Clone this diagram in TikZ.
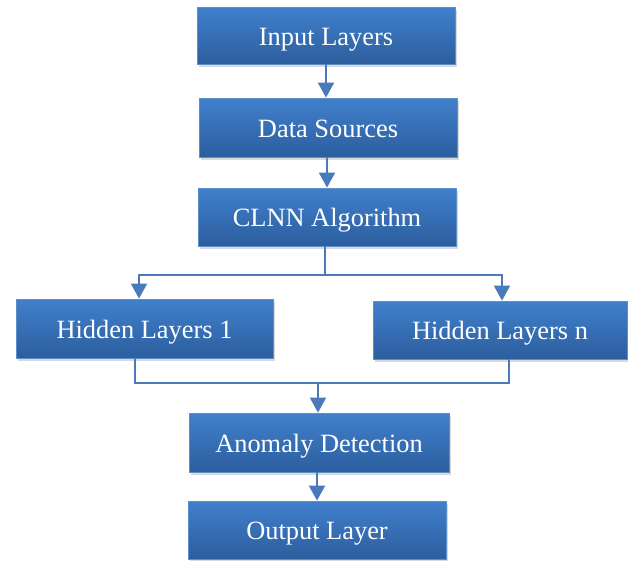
\documentclass[tikz,border=0pt]{standalone}
\usepackage{fontspec}
\setmainfont{Liberation Serif}
\usetikzlibrary{arrows.meta,shadows,calc}
\definecolor{BoxTopColor}{RGB}{64,128,204}
\definecolor{BoxBottomColor}{RGB}{44,94,158}
\definecolor{BoxEdgeColor}{RGB}{92,142,202}
\definecolor{LinkColor}{RGB}{72,122,188}

\begin{document}
\begin{tikzpicture}[x=1pt,y=-1pt,
  blk/.style n args={2}{rectangle,draw=BoxEdgeColor,line width=0.8pt,top color=BoxTopColor,bottom color=BoxBottomColor,minimum width=#1pt,minimum height=#2pt,inner sep=0pt,text height=19pt,text depth=0pt,text=white,font=\fontsize{26.4}{30}\selectfont,drop shadow={shadow xshift=2pt,shadow yshift=-2.5pt,opacity=0.3,fill=black!50}},
  link/.style={draw=LinkColor,line width=2pt},
  arr/.style={link,-{Triangle[width=16pt,length=15pt]}}]
\useasboundingbox (0,0) rectangle (628,560);
\node[blk={258}{57}](input) at(326,35.5) {Input Layers};
\node[blk={258}{59}](data) at(328,127.5) {Data Sources};
\node[blk={258}{58}](clnn) at(327,217) {CLNN Algorithm};
\node[blk={257}{59}](hid1) at(144.5,328.5) {Hidden Layers 1};
\node[blk={254}{58}](hidn) at(500,330) {Hidden Layers n};
\node[blk={260}{59}](anom) at(319,442.5) {Anomaly Detection};
\node[blk={258}{58}](output) at(317,530) {Output Layer};
% vertical chain
\draw[arr] (input.south) -- (input.south |- data.north);
\draw[arr] (clnn.north |- data.south) -- (clnn.north);
\draw[arr] (output.north |- anom.south) -- (output.north);
% split and merge
\coordinate (split) at ($(clnn.south)+(-2,29)$);
\draw[link] (clnn.south -| split) -- (split);
\draw[arr] (split) -| ($(hid1.north)+(-5.5,0)$);
\draw[arr] (split) -| ($(hidn.north)+(2,0)$);
\coordinate (merge) at (318,383);
\draw[link] ($(hid1.south)+(-9.5,0)$) |- (merge) -| ($(hidn.south)+(9,0)$);
\draw[arr] (merge) -- (merge |- anom.north);
\end{tikzpicture}
\end{document}
